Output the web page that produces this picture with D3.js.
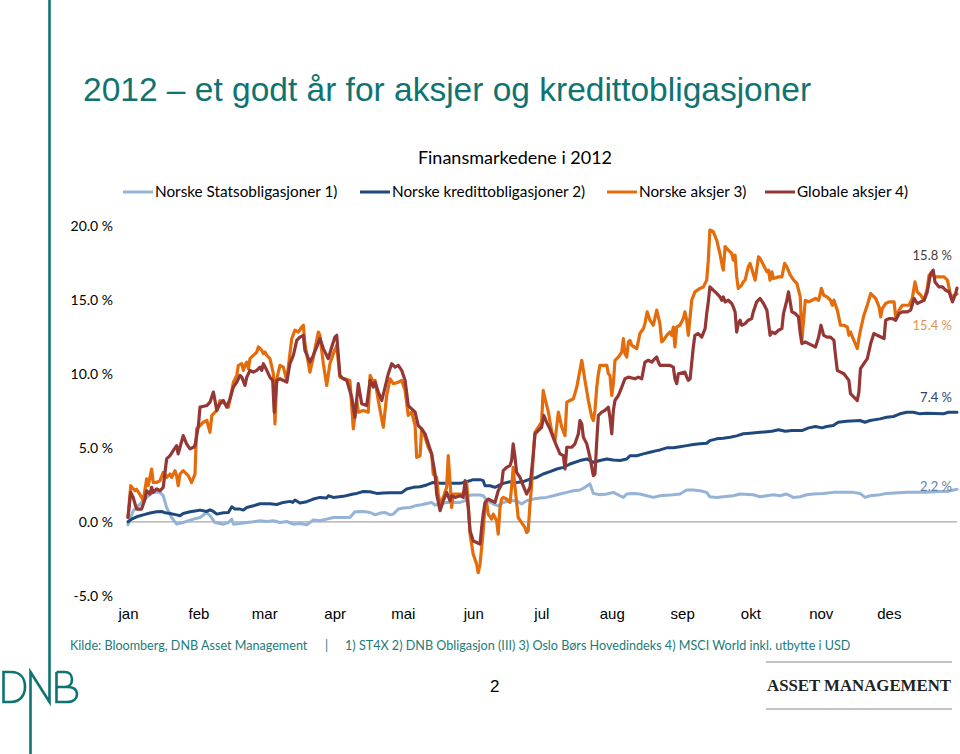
<!DOCTYPE html>
<html><head><meta charset="utf-8">
<script src="https://cdn.jsdelivr.net/npm/d3@7"></script>
<style>
body{margin:0;background:#fff}
svg{display:block}
.cal{font-family:Lato,"Open Sans",sans-serif}
.ari{font-family:"Liberation Sans",Arial,sans-serif}
</style>
</head><body>
<svg id="c" width="960" height="754"></svg>
<script>
// ---------- data (day of 2012, % return) ----------
const months = ["jan","feb","mar","apr","mai","jun","jul","aug","sep","okt","nov","des"];
const yTicks = [-5,0,5,10,15,20];
const seriesNames = ["Norske Statsobligasjoner 1)","Norske kredittobligasjoner 2)","Norske aksjer 3)","Globale aksjer 4)"];

const statsobligasjoner = [[0,-0.2],[2.3,0.75],[5.3,1.2],[8.2,1.65],[11.1,1.99],[14.1,1.99],[15.5,1.76],[17,0.97],[19.2,0.29],[21.4,-0.16],[24.3,-0.05],[28.8,0.18],[31.7,0.29],[34.7,0.63],[36.1,0.41],[38.3,-0.05],[42,-0.16],[44.2,-0.05],[45.7,0.18],[46.4,-0.16],[49.3,-0.12],[52.3,-0.05],[55.2,0],[58.1,0.07],[61.1,0.02],[64,0.07],[66.9,-0.05],[69.9,0.02],[72.8,-0.16],[75.7,-0.12],[78.7,-0.2],[80.1,-0.05],[81.6,0.12],[84.5,0.07],[87.5,0.18],[90.4,0.29],[97.7,0.29],[99.9,0.68],[103.6,0.7],[106.6,0.63],[108.8,0.47],[111,0.59],[113.2,0.63],[115.4,0.47],[116.8,0.52],[119,0.86],[121.2,0.93],[124.2,0.97],[126.4,1.08],[129.3,1.15],[131.5,1.24],[133.7,1.31],[135.2,1.13],[137.4,1.2],[140.3,1.31],[146.2,1.31],[148.4,1.42],[149.8,1.76],[151.3,1.81],[155,1.81],[156.4,1.76],[157.9,1.47],[160.8,1.2],[163,1.08],[165.2,1.31],[168.2,1.42],[171.1,1.42],[173.3,1.2],[175.5,1.42],[178.5,1.54],[181.4,1.61],[184.3,1.65],[187.3,1.76],[190.2,1.88],[193.2,1.99],[196.1,2.1],[199,2.15],[201.2,2.33],[203.4,2.56],[204.9,1.92],[207.8,1.83],[210.8,1.88],[213.7,1.99],[216.6,1.76],[218.1,1.65],[219.6,1.88],[222.5,1.92],[225.4,1.88],[228.4,1.76],[231.3,1.65],[234.2,1.76],[240.1,1.83],[243,1.88],[246,2.15],[248.9,2.15],[251.8,2.1],[254.8,1.99],[256.2,1.69],[259.2,1.65],[262.1,1.69],[266.5,1.76],[269.5,1.88],[275.3,1.83],[278.3,1.69],[281.2,1.76],[284.1,1.83],[287.1,1.76],[290,1.88],[292.9,1.65],[295.9,1.69],[298.8,1.83],[301.7,1.88],[306.1,1.92],[310.5,1.99],[319.3,1.99],[322.3,1.92],[324.5,1.65],[326.7,1.76],[331.1,1.83],[334,1.92],[342.9,1.99],[351.7,1.99],[357.5,2.05],[360.5,2.05],[365,2.2]];

const kredittobligasjoner = [[0,0],[1.6,0.18],[3.8,0.34],[6.7,0.47],[9.7,0.59],[12.6,0.68],[14.8,0.7],[16.3,0.61],[18.5,0.56],[21.4,0.47],[22.9,0.41],[24.3,0.56],[27.3,0.68],[30.2,0.75],[31.7,0.79],[34.7,0.7],[36.1,0.81],[37.6,0.7],[39.1,0.52],[42,0.61],[44.2,0.63],[45.7,1.02],[47.1,0.86],[49.3,0.86],[50.8,0.79],[52.3,0.97],[55.2,1.08],[58.1,1.22],[62.5,1.22],[65.5,1.17],[68.4,1.31],[71.3,1.38],[72.5,1.31],[73.5,1.47],[75.7,1.27],[78.7,1.36],[81.6,1.54],[84.5,1.65],[87.5,1.61],[88.2,1.76],[90.4,1.65],[94.8,1.72],[99.2,1.88],[100.7,1.92],[103.6,2.05],[106.6,2.03],[109.5,1.92],[112.4,1.95],[115.4,1.97],[120.5,1.97],[122.7,2.22],[125.6,2.33],[128.6,2.37],[131.5,2.49],[134.4,2.66],[137.4,2.6],[146.2,2.6],[149.1,2.71],[152,2.85],[155,2.85],[156.4,2.78],[157.2,2.44],[159.4,2.44],[161.6,2.33],[163,2.44],[165.2,2.6],[168.2,2.71],[171.1,2.66],[174,2.71],[177,2.89],[179.9,3.0],[182.8,3.23],[185.8,3.39],[188.8,3.57],[191.7,3.68],[194.6,3.91],[199,4.14],[202,4.25],[204.9,4.02],[207.8,4.14],[210.8,4.25],[213.7,4.18],[216.6,4.14],[219.6,4.25],[221,4.47],[224,4.47],[226.9,4.59],[229.8,4.7],[232.8,4.81],[234.2,4.86],[237.2,5.0],[240.1,5.0],[243,5.08],[246,5.15],[248.9,5.22],[251.8,5.27],[254.8,5.31],[256.2,5.49],[259.2,5.61],[262.1,5.65],[265.1,5.72],[268,5.81],[270.9,5.95],[273.9,5.99],[278.3,6.05],[283.5,6.12],[286.4,6.22],[289.4,6.12],[292.3,6.17],[296.7,6.17],[299.7,6.35],[302.7,6.44],[305.6,6.35],[307.6,6.44],[310.5,6.51],[312.7,6.73],[316.4,6.8],[322.3,6.85],[324.5,6.73],[326.7,6.85],[331.1,6.96],[334,7.07],[337,7.12],[339.9,7.3],[342.9,7.41],[345.8,7.41],[348.7,7.3],[351.7,7.34],[359,7.3],[361.2,7.41],[365,7.4]];

const norskeAksjer = [[0,0.3],[1.2,2.44],[3.1,2.1],[3.8,2.2],[6,1.65],[6.7,1.42],[8.2,2.9],[8.9,2.44],[10.4,3.57],[11.1,2.66],[12.6,2.66],[14.1,2.78],[15.5,3.34],[16.3,3.23],[17,3.0],[18.5,3.23],[19.2,3.0],[20.7,3.46],[21.4,3.12],[22.1,2.44],[22.9,3.23],[24.3,3.46],[25.1,3.34],[26.5,3.12],[28,2.66],[29.5,3.23],[30.2,6.28],[31.7,6.51],[33.2,6.73],[34.7,6.85],[36.1,6.05],[36.9,7.19],[37.6,7.3],[39.1,7.53],[40.5,8.2],[42,8.09],[42.7,7.98],[44.2,7.75],[45.7,8.88],[46.4,9.44],[47.9,9.9],[48.6,10.58],[50.1,10.69],[50.8,10.24],[51.5,10.58],[52.3,10.8],[53,10.35],[53.7,11.03],[55.2,11.25],[56.7,11.48],[57.4,11.82],[58.9,11.59],[59.6,11.37],[60.3,11.48],[61.1,11.25],[62.5,11.03],[64,10.01],[64.7,6.62],[65.5,9.67],[66.9,10.58],[68.4,10.46],[69.9,9.56],[72.1,12.39],[73.5,12.95],[75,12.83],[76.5,13.17],[77.2,13.29],[77.9,12.05],[80.1,10.12],[81.6,11.14],[83.8,12.83],[84.5,12.61],[86,10.69],[87.5,9.22],[88.9,10.69],[90.4,11.37],[91.9,11.93],[93.3,9.78],[95.5,9.67],[97.7,9.56],[99.2,6.28],[100.7,8.2],[101.4,7.41],[103.6,7.53],[105.8,7.41],[106.6,9.9],[108,9.44],[108.8,9.56],[110.2,8.2],[112.4,6.39],[113.9,8.54],[115.4,9.67],[116.8,9.34],[119,9.44],[120.5,9.56],[122,8.88],[123.4,7.19],[124.9,7.41],[126.4,6.51],[127.1,4.36],[128.6,4.47],[129.3,6.28],[130.8,5.72],[132.2,5.04],[133.7,4.59],[134.4,3.23],[135.9,3.0],[136.6,1.88],[137.4,1.2],[138.8,1.65],[140.3,2.33],[141,4.47],[141.8,2.66],[142.5,0.97],[143.2,1.88],[147.6,1.88],[149.1,2.66],[149.8,1.2],[150.6,-0.83],[152,-2.19],[153.5,-2.87],[154.2,-3.44],[155,-2.87],[156.4,-0.61],[157.2,1.2],[157.9,1.31],[158.6,0.52],[160.1,0.18],[160.8,0.52],[161.6,0.29],[162.3,0.07],[163,-0.83],[163.8,0.97],[164.5,1.54],[165.2,1.65],[166.7,1.54],[168.2,1.31],[168.9,2.33],[169.6,3.68],[170.4,2.33],[171.8,0.29],[173.3,-0.05],[174.8,-0.39],[175.5,-0.73],[176.2,-0.61],[177,1.2],[177.7,2.44],[178.5,4.81],[179.2,6.05],[180.6,6.39],[182.1,6.73],[182.8,8.88],[183.6,8.32],[185.1,7.41],[186.6,6.05],[188,5.49],[189.5,7.41],[191,6.39],[192.4,5.83],[193.2,8.09],[194.6,8.2],[196.1,8.32],[197.6,9.11],[199.8,10.92],[201.2,9.56],[202.7,8.2],[204.2,7.07],[204.9,6.85],[205.6,7.53],[206.4,9.11],[207.1,10.01],[207.8,10.58],[210.8,10.58],[211.5,10.01],[212.2,9.9],[213,8.54],[213.7,9.34],[214.4,10.92],[215.9,11.14],[217.4,11.48],[218.1,12.39],[218.8,11.37],[219.6,11.14],[220.3,12.16],[221,12.27],[221.8,11.93],[224,11.71],[225.4,12.73],[226.9,13.06],[227.6,13.4],[228.6,14.19],[229.8,13.63],[231.3,13.29],[232.8,14.31],[234.2,13.4],[235,12.16],[235.7,12.27],[237.2,12.61],[238.6,12.83],[239.4,12.61],[240.1,13.17],[240.8,11.82],[241.6,13.17],[243,13.29],[244.5,13.74],[245.2,14.19],[246,13.63],[246.7,12.61],[248.2,14.98],[249.6,15.55],[251.8,15.78],[253.3,15.88],[254.8,16.34],[255.5,17.69],[256.2,19.73],[257.7,19.61],[259.2,19.05],[260.6,18.15],[261.7,17.24],[262.1,17.02],[262.9,18.6],[264.3,18.37],[265.8,18.15],[266.5,17.69],[267.3,18.03],[268,16.56],[268.7,15.78],[270.2,16.0],[270.9,16.22],[271.7,16.34],[273.1,17.24],[273.9,17.47],[274.6,17.13],[276.1,16.34],[276.8,17.02],[277.6,17.92],[278.3,17.81],[279.8,17.36],[281.3,16.9],[282,17.02],[282.7,16.34],[283.5,16.9],[284.2,16.45],[286.4,16.56],[287.9,16.56],[289.1,17.47],[290.1,17.24],[291.6,16.68],[293.1,16.34],[294.5,16.12],[296,15.21],[296.7,12.27],[298.2,14.98],[299.7,14.87],[301.2,14.98],[302.7,15.1],[304.1,14.98],[305.3,15.78],[306.3,15.32],[307.8,15.21],[309.3,14.98],[310.1,14.64],[310.8,14.98],[312.3,14.31],[313.7,13.29],[315.2,13.29],[316.7,13.17],[317.4,12.61],[318.1,12.83],[319.6,12.27],[321.1,11.71],[321.8,12.39],[322.5,12.95],[324,13.97],[325.5,14.64],[327,15.44],[327.7,15.32],[329.2,15.1],[330.7,14.53],[331.4,13.85],[332.1,14.42],[333.6,14.76],[335.1,14.87],[337.3,14.87],[338,13.85],[339.5,14.31],[340.9,14.64],[343.9,14.64],[345.3,15.1],[346.5,16.22],[347.5,15.55],[349,15.32],[350.5,14.98],[351.9,15.78],[352.7,16.68],[354.1,16.68],[355.6,16.56],[359.3,16.56],[360.8,16.34],[362.3,15.21],[363.8,15.32],[365,15.4]];

const globaleAksjer = [[0,0.3],[1.2,1.99],[2.3,1.65],[3.1,1.2],[3.8,0.86],[6,0.86],[7.5,1.54],[8.2,2.1],[9.7,1.88],[10.4,2.33],[11.1,1.99],[12.6,2.22],[14.1,2.1],[15.5,2.33],[17,4.25],[18.5,4.47],[19.9,4.81],[21.4,5.15],[22.1,4.59],[22.9,5.04],[24.3,5.83],[25.8,5.27],[27.3,4.93],[28.8,5.04],[29.5,5.15],[31,6.51],[31.7,7.75],[34.7,7.86],[36.1,8.09],[37.6,8.77],[39.1,7.53],[40.5,7.98],[42,8.2],[43.5,7.75],[44.9,8.32],[46.4,9.11],[47.9,9.44],[49.3,9.9],[50.1,9.78],[51.5,9.22],[52.3,9.78],[53.7,10.24],[55.2,10.12],[56.7,10.24],[58.1,10.46],[58.9,10.24],[59.6,10.69],[61.1,10.24],[62.5,9.78],[63.7,9.56],[64.4,7.41],[65.5,9.56],[66.9,9.67],[69.9,9.44],[71.3,10.69],[72.8,11.25],[74.3,12.27],[75.7,12.49],[77.2,12.61],[77.9,11.59],[80.1,10.8],[81.6,11.25],[84.5,12.39],[86,11.71],[88.2,11.03],[89.7,11.82],[91.1,12.49],[91.9,12.61],[93.3,9.9],[94.8,9.67],[96.3,9.56],[98.5,8.43],[99.9,7.07],[101.4,9.34],[102.9,7.98],[105.1,7.86],[106.6,9.56],[108,9.11],[108.8,9.44],[110.2,8.77],[111.7,8.2],[113.2,9.11],[114.6,10.01],[116.1,10.69],[117.6,10.46],[119,10.58],[120.5,10.24],[122,9.56],[123.4,7.86],[124.9,7.64],[126.4,7.41],[127.8,6.51],[129.3,6.28],[130.8,5.95],[132.2,5.27],[133.7,4.59],[135.2,3.23],[135.9,1.88],[137.4,0.75],[138.8,1.42],[140.3,1.99],[141.8,1.42],[142.5,1.76],[144,1.65],[146.2,1.76],[147.6,1.65],[148.4,2.78],[149.8,0.97],[150.6,-0.61],[152,-1.29],[153.5,-1.4],[155,-1.51],[155.7,-0.39],[156.4,0.52],[157.2,1.31],[158.6,1.54],[160.1,1.42],[161.6,1.31],[163,2.1],[164.5,2.56],[165.2,3.46],[166.7,3.68],[168.2,3.8],[168.9,4.14],[169.6,5.27],[170.4,4.36],[171.1,3.34],[172.6,3.0],[174,2.44],[175.5,1.88],[177,2.33],[177.7,3.46],[178.5,4.59],[179.2,5.95],[180.6,6.17],[182.1,6.39],[183.1,7.19],[184.3,6.73],[185.8,6.28],[188,5.38],[190.2,4.59],[191.7,4.47],[192.4,3.57],[193.2,5.04],[195.4,5.04],[196.8,5.27],[198.3,5.95],[199,6.85],[199.8,6.62],[200.5,5.72],[202,5.27],[203.4,4.36],[204.2,3.68],[204.9,3.12],[205.6,3.23],[206.4,5.49],[207.1,7.19],[208.6,7.41],[210,7.53],[211.5,7.75],[212.2,7.07],[213,5.95],[213.7,7.53],[214.4,8.2],[215.9,8.54],[217.4,9.11],[218.8,9.67],[220.3,9.78],[223.2,9.67],[224.7,9.78],[226.2,9.67],[226.9,10.24],[227.6,10.8],[229.1,10.92],[230.6,10.8],[232,11.03],[232.8,11.14],[233.5,10.8],[234.2,10.58],[238.6,10.58],[240.1,10.46],[240.8,9.67],[241.6,9.34],[242.3,10.01],[245.2,10.12],[246,9.78],[246.7,9.56],[247.5,9.67],[248.9,11.82],[249.6,12.61],[251.1,12.73],[252.6,12.49],[254.1,13.06],[254.8,14.08],[255.5,14.87],[256.2,15.88],[257.7,15.66],[259.2,15.44],[260.6,15.21],[261.4,14.98],[262.1,15.21],[262.9,14.87],[264.3,14.98],[265.8,14.76],[266.5,14.53],[267.3,14.19],[268,12.83],[268.7,13.4],[269.5,13.63],[270.2,13.29],[271.7,13.4],[273.1,13.63],[274.6,13.74],[275.3,14.19],[276.8,14.87],[278.3,15.1],[279.8,14.76],[281.3,14.31],[282.7,12.61],[283.5,12.83],[284.9,12.73],[286.4,12.95],[287.9,13.06],[288.6,14.08],[290.1,14.98],[290.8,15.55],[292.3,14.19],[293.8,14.08],[295.2,13.85],[296,12.73],[296.7,12.05],[298.2,12.16],[299.7,12.05],[301.2,11.93],[302.7,11.82],[304.1,12.49],[305.1,13.29],[306.3,12.61],[307.8,12.49],[309.3,12.49],[310.8,12.27],[311.5,11.25],[312.3,10.24],[313.7,10.12],[315.2,10.01],[317.4,9.56],[318.1,8.66],[319.6,8.43],[321.1,8.2],[321.8,8.77],[322.5,10.35],[324,10.69],[325.5,11.03],[327,12.05],[328.4,12.73],[329.9,12.61],[332.9,12.39],[333.6,13.63],[335.1,13.74],[336.6,13.74],[338,13.63],[339.5,14.08],[340.9,14.19],[343.1,14.19],[344.6,14.31],[346.1,15.1],[347.5,14.76],[349,14.87],[350.5,14.98],[351.9,15.55],[353.4,16.79],[354.5,17.02],[355.3,16.22],[357.1,15.88],[358.6,15.88],[360,15.66],[361.5,15.55],[363,14.87],[364.4,15.44],[365,15.8]];

const colors = ["#95B3D7","#1F497D","#E46C0A","#953735"];
const labelColors = ["#5f7fab","#2c4468","#e2954f","#4a3a3a"];

// ---------- drawing ----------
const svg = d3.select("#c");
const teal = "#0f7471";
const start = new Date(2012,0,1);
const end = new Date(2012,11,31);
const toDate = d => new Date(+start + d*864e5);
const x = d3.scaleTime().domain([start, end]).range([128,957]);
const y = d3.scaleLinear().domain([-5,20]).range([595.75,226]);
const pct = v => d3.format(".1f")(v).replace("\u2212","-") + " %";

svg.append("rect").attr("width",960).attr("height",754).attr("fill","#fff");

// title
svg.append("text").attr("class","ari").attr("x",83).attr("y",101)
  .attr("font-size",33.5).attr("fill",teal)
  .text("2012 – et godt år for aksjer og kredittobligasjoner");

// chart title
svg.append("text").attr("class","cal").attr("x",515).attr("y",164)
  .attr("text-anchor","middle").attr("font-size",18).attr("fill","#000")
  .text("Finansmarkedene i 2012");

// legend
const legX = [123,360,607,765];
const leg = svg.append("g");
seriesNames.forEach((n,i)=>{
  leg.append("line").attr("x1",legX[i]).attr("x2",legX[i]+30).attr("y1",192).attr("y2",192)
    .attr("stroke",colors[i]).attr("stroke-width",3);
  leg.append("text").attr("class","cal").attr("x",legX[i]+32).attr("y",197)
    .attr("font-size",15.3).attr("fill","#000").text(n);
});

// y axis
const yAxis = svg.append("g").attr("transform","translate(128,0)")
  .call(d3.axisLeft(y).tickValues(yTicks).tickSize(0).tickPadding(15).tickFormat(pct));
yAxis.select(".domain").remove();
yAxis.selectAll("text").attr("class","cal").attr("font-size",14).attr("fill","#000");

// x axis (month labels)
const xAxis = svg.append("g").attr("transform","translate(0,605)")
  .call(d3.axisBottom(x).ticks(d3.timeMonth.every(1)).tickSize(0).tickPadding(3)
        .tickFormat(d => months[d.getMonth()]));
xAxis.select(".domain").remove();
xAxis.selectAll("text").attr("class","ari").attr("font-size",15).attr("fill","#000");

// zero line
svg.append("line").attr("x1",x(start)).attr("x2",x(end))
  .attr("y1",y(0)).attr("y2",y(0)).attr("stroke","#a6a6a6").attr("stroke-width",1.3);

// series
const line = d3.line().x(d => x(toDate(d[0]))).y(d => y(d[1]));
const allSeries = [statsobligasjoner, kredittobligasjoner, norskeAksjer, globaleAksjer];
allSeries.forEach((s,i)=>{
  svg.append("path").datum(s).attr("d",line).attr("fill","none")
    .attr("stroke",colors[i]).attr("stroke-width",i<2?3:3.2)
    .attr("stroke-linejoin","round").attr("stroke-linecap","round");
});

// end labels
const labelDy = [-3.5,-15,31,-33];
allSeries.forEach((s,i)=>{
  const last = s[s.length-1];
  svg.append("text").attr("class","cal").attr("x",952).attr("y",y(last[1])+labelDy[i]+5)
    .attr("text-anchor","end").attr("font-size",13).attr("fill",labelColors[i])
    .text(pct(last[1]));
});

// footer
const foot = svg.append("g").attr("class","cal").attr("font-size",12.6).attr("fill","#1d7b78");
foot.append("text").attr("x",70).attr("y",650).text("Kilde: Bloomberg, DNB Asset Management");
foot.append("text").attr("x",325).attr("y",650).text("|");
foot.append("text").attr("x",345).attr("y",650).text("1) ST4X 2) DNB Obligasjon (III) 3) Oslo Børs Hovedindeks 4) MSCI World inkl. utbytte i USD");

// page number
svg.append("text").attr("class","ari").attr("x",490).attr("y",692).attr("font-size",17).attr("fill","#000").text("2");

// asset management
svg.append("line").attr("x1",766).attr("x2",952).attr("y1",662).attr("y2",662).attr("stroke","#c4c4c4").attr("stroke-width",2);
svg.append("line").attr("x1",766).attr("x2",952).attr("y1",709).attr("y2",709).attr("stroke","#c4c4c4").attr("stroke-width",2);
svg.append("text").attr("x",767).attr("y",691).attr("font-family","'Liberation Serif',serif")
  .attr("font-weight","bold").attr("font-size",17).attr("fill","#222")
  .attr("textLength",184).attr("lengthAdjust","spacingAndGlyphs").text("ASSET MANAGEMENT");

// DNB logo + vertical rule
const logo = svg.append("g").attr("fill","none").attr("stroke",teal).attr("stroke-width",2.6);
logo.append("path").attr("d","M49.5,0 V702 L30.5,672 V754");
logo.append("path").attr("d","M3.5,672 V702 H11 C21,702 25,694 25,687 C25,679 21,672 11,672 Z");
logo.append("path").attr("d","M56.5,672 V702 H67 C74,702 77,698 77,694 C77,690 74,687 67,687 H56.5 M56.5,672 H65 C70,672 72,676 72,679.5 C72,683 70,687 65,687");
</script>
</body></html>
